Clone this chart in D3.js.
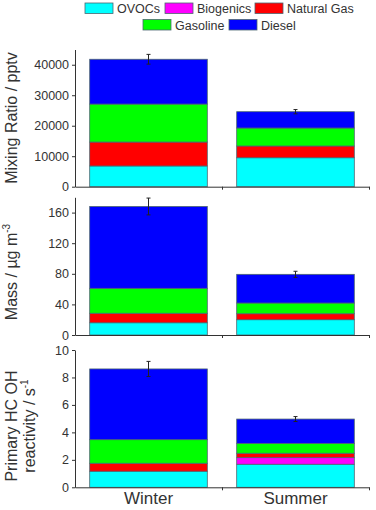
<!DOCTYPE html>
<html lang="en">
<head>
    <meta charset="UTF-8">
    <title>Emission sources</title>
    <script src="https://cdnjs.cloudflare.com/ajax/libs/d3/7.8.5/d3.min.js"></script>
    <style>
        body { margin: 0; background: #fff; }
        text { font-family: "Liberation Sans", Arial, sans-serif; fill: #333; }
    </style>
</head>
<body>
    <div id="wrapper"></div>
    <script>
        // data
        const categories = ['Winter', 'Summer']
        const sources = ['OVOCs', 'Biogenics', 'Natural Gas', 'Gasoline', 'Diesel']
        const colors = ['#00ffff', '#ff00ff', '#ff0000', '#00ff00', '#0000ff']

        // values per source, [Winter, Summer]
        const mixingRatio = {
            'OVOCs': [6800, 9500],
            'Biogenics': [0, 0],
            'Natural Gas': [7850, 3850],
            'Gasoline': [12450, 5900],
            'Diesel': [14700, 5350]
        }
        const mixingRatioErr = [1600, 700]
        const mixingRatioTicks = [0, 10000, 20000, 30000, 40000]

        const mass = {
            'OVOCs': [16, 20],
            'Biogenics': [0, 0],
            'Natural Gas': [12.4, 7.8],
            'Gasoline': [32.6, 14],
            'Diesel': [107, 37.5]
        }
        const massErr = [11, 4]
        const massTicks = [0, 40, 80, 120, 160]

        const reactivity = {
            'OVOCs': [1.17, 1.68],
            'Biogenics': [0, 0.48],
            'Natural Gas': [0.58, 0.32],
            'Gasoline': [1.72, 0.72],
            'Diesel': [5.15, 1.77]
        }
        const reactivityErr = [0.55, 0.18]
        const reactivityTicks = [0, 2, 4, 6, 8, 10]

        const width = 376
        const height = 510
        const left = 75
        const right = 369

        const svg = d3.select('#wrapper')
            .append('svg')
                .attr('width', width)
                .attr('height', height)

        const color = d3.scaleOrdinal().domain(sources).range(colors)

        const xScale = d3.scaleBand()
            .domain(categories)
            .range([left, right])
            .paddingInner(0.2)
            .paddingOuter(0.1)

        // linear scale just for the x axis tick marks between / after the bars
        const xTicks = d3.scaleLinear().domain([0.5, 2.5]).range([left, right])

        const panels = [
            { values: mixingRatio, err: mixingRatioErr, ticks: mixingRatioTicks, max: 45000, top: 49.5, bottom: 186.7, titleY: 118 },
            { values: mass, err: massErr, ticks: massTicks, max: 180, top: 197.3, bottom: 335, titleY: 272 },
            { values: reactivity, err: reactivityErr, ticks: reactivityTicks, max: 10, top: 350, bottom: 487.3, titleY: 426 }
        ]

        panels.forEach((p, i) => {
            const rows = categories.map((c, ci) => {
                const row = { category: c }
                sources.forEach(s => row[s] = p.values[s][ci])
                return row
            })
            const series = d3.stack().keys(sources)(rows)

            const yScale = d3.scaleLinear()
                .domain([0, p.max])
                .range([p.bottom, p.top])

            const g = svg.append('g')

            g.selectAll('g.layer')
                .data(series)
                .join('g')
                    .attr('class', 'layer')
                    .attr('fill', d => color(d.key))
                .selectAll('rect')
                .data(d => d)
                .join('rect')
                    .attr('x', d => xScale(d.data.category))
                    .attr('y', d => yScale(d[1]))
                    .attr('width', xScale.bandwidth())
                    .attr('height', d => yScale(d[0]) - yScale(d[1]))
                    .attr('stroke', d => (d[1] - d[0]) > 0 ? '#4d6670' : 'none')
                    .attr('stroke-width', 0.8)

            // error bars on top of the stacks
            const totals = rows.map((r, ci) => ({ category: r.category, total: d3.sum(sources, s => r[s]), err: p.err[ci] }))
            const eb = g.selectAll('g.err')
                .data(totals)
                .join('g')
                    .attr('class', 'err')
                    .attr('stroke', '#222')
                    .attr('stroke-width', 1)
            eb.append('line')
                .attr('x1', d => xScale(d.category) + xScale.bandwidth() / 2)
                .attr('x2', d => xScale(d.category) + xScale.bandwidth() / 2)
                .attr('y1', d => yScale(d.total + d.err))
                .attr('y2', d => yScale(d.total - d.err))
            eb.append('line')
                .attr('x1', d => xScale(d.category) + xScale.bandwidth() / 2 - 2)
                .attr('x2', d => xScale(d.category) + xScale.bandwidth() / 2 + 2)
                .attr('y1', d => yScale(d.total + d.err))
                .attr('y2', d => yScale(d.total + d.err))
            eb.append('line')
                .attr('x1', d => xScale(d.category) + xScale.bandwidth() / 2 - 2)
                .attr('x2', d => xScale(d.category) + xScale.bandwidth() / 2 + 2)
                .attr('y1', d => yScale(d.total - d.err))
                .attr('y2', d => yScale(d.total - d.err))

            // y axis
            const yAxis = g.append('g')
                .attr('transform', `translate(${left},0)`)
                .call(d3.axisLeft(yScale)
                    .tickValues(p.ticks)
                    .tickFormat(d3.format('d'))
                    .tickSize(3)
                    .tickSizeOuter(0)
                    .tickPadding(3))
            yAxis.select('.domain').attr('stroke', '#333')
            yAxis.selectAll('.tick line').attr('stroke', '#333')
            yAxis.selectAll('.tick text')
                .style('font-size', '12.5px')
                .attr('fill', '#333')

            // x axis line with tick marks
            const xAxis = g.append('g')
                .attr('transform', `translate(0,${p.bottom})`)
                .call(d3.axisBottom(xTicks)
                    .tickValues([1.5, 2.5])
                    .tickFormat('')
                    .tickSize(3)
                    .tickSizeOuter(0))
            xAxis.select('.domain').attr('stroke', '#333')
            xAxis.selectAll('.tick line').attr('stroke', '#333')

            // category labels under the last panel only
            if (i === panels.length - 1) {
                const labels = g.append('g')
                    .attr('transform', `translate(0,${p.bottom})`)
                    .call(d3.axisBottom(xScale).tickSize(0).tickPadding(5))
                labels.select('.domain').remove()
                labels.selectAll('text')
                    .style('font-size', '17px')
                    .attr('fill', '#222')
            }
        })

        // y axis titles
        const t1 = svg.append('text')
            .attr('transform', `translate(17,${panels[0].titleY}) rotate(-90)`)
            .attr('text-anchor', 'middle')
            .style('font-size', '16px')
            .text('Mixing Ratio / pptv')

        const t2 = svg.append('text')
            .attr('transform', `translate(17,${panels[1].titleY}) rotate(-90)`)
            .attr('text-anchor', 'middle')
            .style('font-size', '16px')
        t2.append('tspan').text('Mass / µg m')
        t2.append('tspan').attr('dy', -7).style('font-size', '10px').text('-3')

        const t3 = svg.append('text')
            .attr('transform', `translate(17,${panels[2].titleY}) rotate(-90)`)
            .attr('text-anchor', 'middle')
            .style('font-size', '16px')
            .text('Primary HC OH')
        const t4 = svg.append('text')
            .attr('transform', `translate(35,${panels[2].titleY}) rotate(-90)`)
            .attr('text-anchor', 'middle')
            .style('font-size', '16px')
        t4.append('tspan').text('reactivity / s')
        t4.append('tspan').attr('dy', -7).style('font-size', '10px').text('-1')

        // legend: two centred rows
        const legendRows = [sources.slice(0, 3), sources.slice(3)]
        const legendX = [[85, 165, 255], [143, 229]]
        legendRows.forEach((row, ri) => {
            const item = svg.append('g')
                .selectAll('g')
                .data(row)
                .join('g')
                    .attr('transform', (d, k) => `translate(${legendX[ri][k]},${3 + ri * 16.5})`)
            item.append('rect')
                .attr('width', 28)
                .attr('height', 10.5)
                .attr('fill', d => color(d))
                .attr('stroke', '#4d6670')
                .attr('stroke-width', 0.8)
            item.append('text')
                .attr('x', 32)
                .attr('y', 10)
                .style('font-size', '12.5px')
                .text(d => d)
        })
    </script>
</body>
</html>
